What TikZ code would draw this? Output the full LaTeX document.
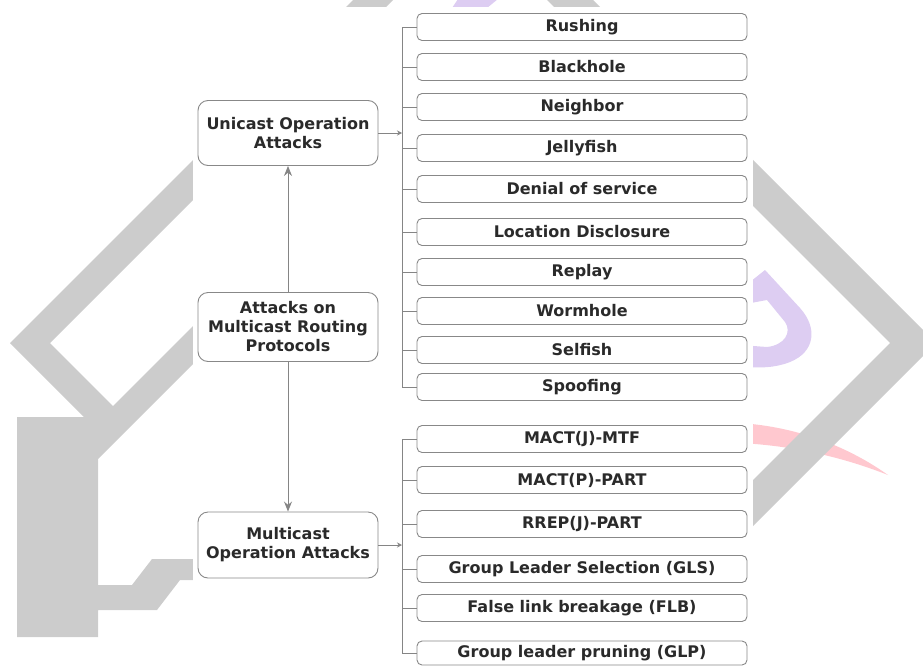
\documentclass[tikz,border=0pt]{standalone}
\usepackage{fontspec}
\setmainfont{DejaVu Sans}
\usetikzlibrary{arrows.meta}
\definecolor{wmgray}{HTML}{CCCCCC}
\definecolor{wmpurple}{HTML}{DDCDF2}
\definecolor{wmpink}{HTML}{FFC8CF}
\definecolor{linegray}{HTML}{858585}
\definecolor{boxgray}{HTML}{888888}
\definecolor{txt}{HTML}{2A2A2A}
\begin{document}
\begin{tikzpicture}[x=1pt,y=-1pt,
 rbox/.style={draw=boxgray, line width=0.9pt, rounded corners=5pt, fill=white, minimum width=330pt, minimum height=27pt, inner sep=0pt, font=\fontsize{16}{19}\selectfont\bfseries, text=txt},
 lbox/.style={draw=boxgray, line width=0.9pt, rounded corners=10pt, fill=white, minimum width=180pt, inner sep=0pt, align=center, font=\fontsize{16}{19}\selectfont\bfseries, text=txt},
 conn/.style={draw=linegray, line width=1pt},
 bigarrow/.style={conn, -{Stealth[length=10pt,width=8pt]}},
 smallarrow/.style={conn, -{Stealth[length=5pt,width=5pt]}}]
\useasboundingbox (0,0) rectangle (923,667);
% watermark
\begin{scope}
\clip (0,0) rectangle (923,667);
\fill[wmpink] (740,423) .. controls (800,427) and (850,448) .. (888,475)
   .. controls (850,460) and (800,446) .. (740,443) -- cycle;
\fill[wmpurple, even odd rule]
   (740,290) -- (765,270) -- (800,308) .. controls (818,328) and (815,352) .. (790,362)
   .. controls (775,368) and (760,368) .. (740,367) -- cycle
   (740,305) -- (767,300) -- (785,322) .. controls (792,332) and (785,345) .. (767,347)
   -- (740,345) -- cycle;
\fill[wmpurple] (452,8) -- (487,8) -- (498,-1) -- (458,-1) -- cycle;
\fill[wmgray] (10,343) -- (363,-10) -- (403,-10) -- (50,343) -- cycle;
\fill[wmgray] (583,-10) -- (936,343) -- (890,343) -- (537,-10) -- cycle;
\fill[wmgray] (936,343) -- (740,539) -- (740,493) -- (890,343) -- cycle;
\fill[wmgray] (10,343) -- (50,343) -- (113,406) -- (200,319) -- (200,357) -- (98,459)
   -- (98,585) -- (132,585) -- (152,559) -- (200,559) -- (200,580) -- (180,580)
   -- (157,610) -- (98,610) -- (98,637) -- (17,637) -- (17,417) -- (84,417) -- cycle;
\end{scope}
\fill[white] (193,7) rectangle (753,667);
% left nodes
\node[lbox, minimum height=65pt] (uni) at (288,133) {Unicast Operation\\Attacks};
\node[lbox, minimum height=69pt] (root) at (288,327) {Attacks on\\Multicast Routing\\Protocols};
\node[lbox, minimum height=66pt] (multi) at (288,545) {Multicast\\Operation Attacks};
\draw[bigarrow] (root.north) -- (uni.south);
\draw[bigarrow] (root.south) -- (multi.north);
% unicast group
\node[rbox] (u1) at (582,27) {Rushing};
\node[rbox] (u2) at (582,67) {Blackhole};
\node[rbox] (u3) at (582,107) {Neighbor};
\node[rbox] (u4) at (582,148) {Jellyfish};
\node[rbox] (u5) at (582,189) {Denial of service};
\node[rbox] (u6) at (582,232) {Location Disclosure};
\node[rbox] (u7) at (582,272) {Replay};
\node[rbox] (u8) at (582,311) {Wormhole};
\node[rbox] (u9) at (582,350) {Selfish};
\node[rbox] (u10) at (582,387) {Spoofing};
\coordinate (ju) at (402,133);
\draw[smallarrow] (uni.east) -- (ju);
\foreach \i in {1,...,10} { \draw[conn] (ju) |- (u\i.west); }
% multicast group
\node[rbox] (m1) at (582,439) {MACT(J)-MTF};
\node[rbox] (m2) at (582,480) {MACT(P)-PART};
\node[rbox] (m3) at (582,524) {RREP(J)-PART};
\node[rbox] (m4) at (582,569) {Group Leader Selection (GLS)};
\node[rbox] (m5) at (582,608) {False link breakage (FLB)};
\node[rbox, minimum height=24pt] (m6) at (582,653) {Group leader pruning (GLP)};
\coordinate (jm) at (402,545);
\draw[smallarrow] (multi.east) -- (jm);
\foreach \i in {1,...,6} { \draw[conn] (jm) |- (m\i.west); }
\end{tikzpicture}
\end{document}
